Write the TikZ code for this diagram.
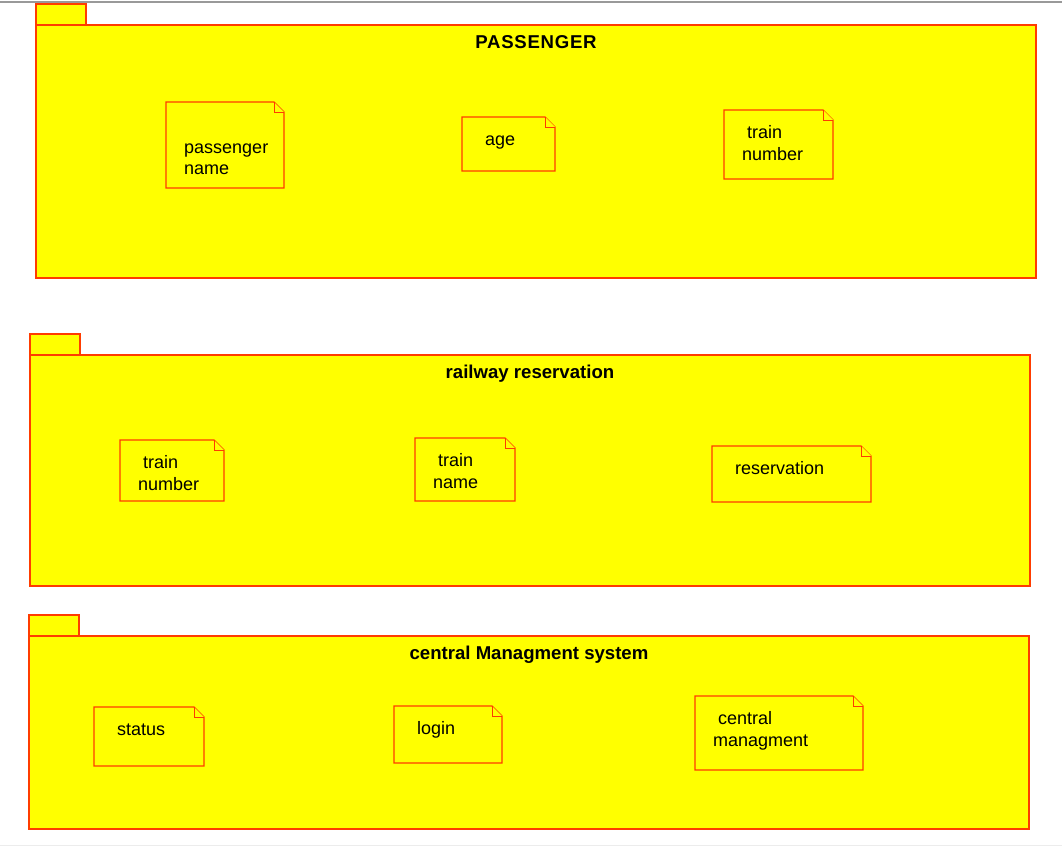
\documentclass[tikz,border=0pt]{standalone}
\usepackage{fontspec}
\setmainfont{Liberation Sans}
\definecolor{pkfill}{RGB}{255,255,0}
\definecolor{pkline}{RGB}{255,60,0}
\newcommand\notebox[4]{%
  \draw[pkg] (#1,#2) -- ({#3-10},#2) -- (#3,{#2+10}) -- (#3,#4) -- (#1,#4) -- cycle;
  \draw[pkg,line width=0.8pt] ({#3-10},#2) -- ({#3-10},{#2+10}) -- (#3,{#2+10});}
\newcommand\pkgbox[4]{%
  \draw[pkg] (#1,#2) rectangle ({#1+50},{#2+21});
  \draw[pkg] (#1,{#2+21}) rectangle (#3,#4);}
\begin{document}
\begin{tikzpicture}[x=1pt,y=-1pt,
  pkg/.style={draw=pkline,fill=pkfill,line width=1.2pt},
  lbl/.style={anchor=base west,font=\fontsize{18}{20}\selectfont,inner sep=0pt},
  ttl/.style={anchor=base,font=\bfseries\fontsize{18.6}{20}\selectfont,inner sep=0pt}]
\useasboundingbox (0,0) rectangle (1062,847);
\draw[gray!80,line width=1.5pt] (0,2) -- (1062,2);
\draw[gray!15,line width=1pt] (0,845) -- (1062,845);
% Package 1
\pkgbox{36}{4}{1036}{278}
\node[ttl,font=\bfseries\addfontfeature{LetterSpace=4}\fontsize{18.6}{20}\selectfont] (t1) at (536,48) {PASSENGER};
\notebox{166}{102}{284}{188}
\node[lbl] (n1a) at (184,153) {passenger};
\node[lbl] (n1b) at (184,174) {name};
\notebox{462}{117}{555}{171}
\node[lbl] (n2) at (485,145) {age};
\notebox{724}{110}{833}{179}
\node[lbl] (n3a) at (747,138) {train};
\node[lbl] (n3b) at (742,160) {number};
% Package 2
\pkgbox{30}{334}{1030}{586}
\node[ttl] (t2) at (530,378) {railway reservation};
\notebox{120}{440}{224}{501}
\node[lbl] (n4a) at (143,468) {train};
\node[lbl] (n4b) at (138,490) {number};
\notebox{415}{438}{515}{501}
\node[lbl] (n5a) at (438,466) {train};
\node[lbl] (n5b) at (433,488) {name};
\notebox{712}{446}{871}{502}
\node[lbl] (n6) at (735,474) {reservation};
% Package 3
\pkgbox{29}{615}{1029}{829}
\node[ttl] (t3) at (529,659) {central Managment system};
\notebox{94}{707}{204}{766}
\node[lbl] (n7) at (117,735) {status};
\notebox{394}{706}{502}{763}
\node[lbl] (n8) at (417,734) {login};
\notebox{695}{696}{863}{770}
\node[lbl] (n9a) at (718,724) {central};
\node[lbl] (n9b) at (713,746) {managment};
\end{tikzpicture}
\end{document}
